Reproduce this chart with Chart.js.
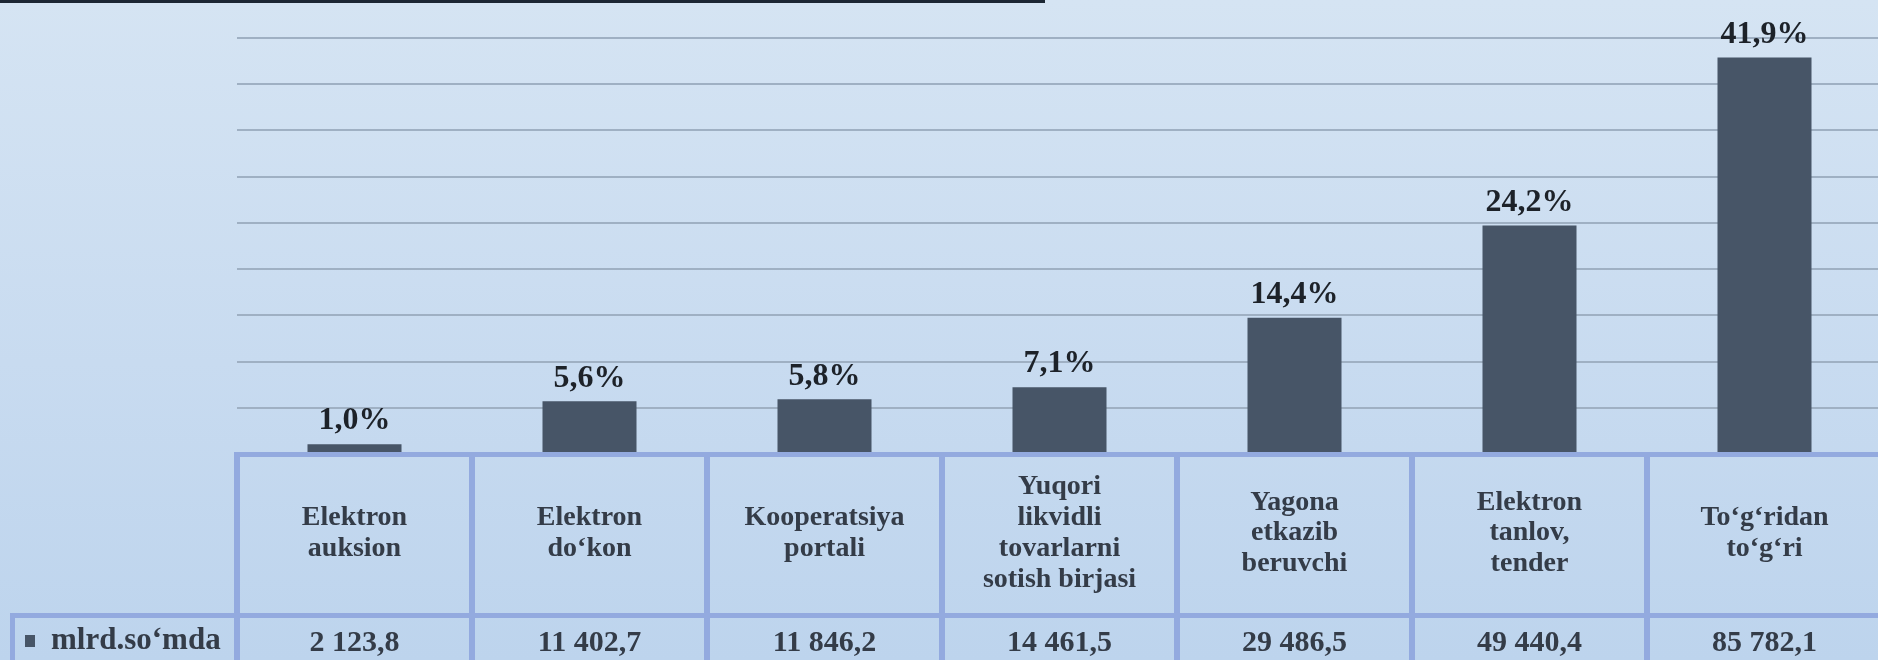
<!DOCTYPE html>
<html>
<head>
<meta charset="utf-8">
<script src="https://cdn.jsdelivr.net/npm/chart.js"></script>
<style>
  html, body { margin: 0; padding: 0; overflow: hidden; }
  body {
    width: 1878px; height: 660px; position: relative;
    background: linear-gradient(to bottom, #d5e4f3 0%, #c8dbf0 55%, #bdd4ed 100%);
  }
  #topline { position: absolute; left: 0; top: 0; width: 1045px; height: 3px; background: #1c2734; }
  #wrap { position: absolute; left: 0; top: 0; width: 1878px; height: 660px; overflow: hidden; }
</style>
</head>
<body>
<div id="wrap"><canvas id="chartXarid" width="1884" height="660"></canvas></div>
<div id="topline"></div>
<script>
var categories = [
    ['Elektron', 'auksion'],
    ['Elektron', 'do‘kon'],
    ['Kooperatsiya', 'portali'],
    ['Yuqori', 'likvidli', 'tovarlarni', 'sotish birjasi'],
    ['Yagona', 'etkazib', 'beruvchi'],
    ['Elektron', 'tanlov,', 'tender'],
    ['To‘g‘ridan', 'to‘g‘ri']
];
var values = [2123.8, 11402.7, 11846.2, 14461.5, 29486.5, 49440.4, 85782.1];
var shares = [1.0, 5.6, 5.8, 7.1, 14.4, 24.2, 41.9];
var seriesName = 'mlrd.so‘mda';

var barColor = '#475567';
var lineColor = '#93aadf';
var textColor = '#343c48';

function fmtValue(v) {
    var parts = v.toFixed(1).split('.');
    return parts[0].replace(/\B(?=(\d{3})+(?!\d))/g, ' ') + ',' + parts[1];
}
var valueLabels = values.map(fmtValue);

// percent labels above the bars
var shareLabels = {
    id: 'shareLabels',
    afterDatasetsDraw: function(chart) {
        var ctx = chart.ctx;
        var meta = chart.getDatasetMeta(0);
        ctx.save();
        ctx.font = 'bold 32px "Liberation Serif"';
        ctx.fillStyle = '#1d2229';
        ctx.textAlign = 'center';
        ctx.textBaseline = 'middle';
        meta.data.forEach(function(bar, i) {
            ctx.fillText(shares[i].toFixed(1).replace('.', ',') + '%', bar.x, bar.y - 23);
        });
        ctx.restore();
    }
};

// data table borders + legend key, like the excel data table
var dataTable = {
    id: 'dataTable',
    afterDraw: function(chart) {
        var ctx = chart.ctx;
        var area = chart.chartArea;
        var x2 = chart.scales.x2;
        var w = chart.width;
        var step = (area.right - area.left) / categories.length;
        ctx.save();
        ctx.fillStyle = lineColor;
        // top edge
        ctx.fillRect(area.left - 3, area.bottom - 2, w, 5);
        // row divider
        ctx.fillRect(10, x2.top - 2, w, 5);
        // legend cell left edge
        ctx.fillRect(10, x2.top - 2, 5, chart.height);
        // column dividers
        for (var i = 0; i <= categories.length; i++) {
            ctx.fillRect(area.left + i * step - 3, area.bottom - 2, 6, chart.height);
        }
        // legend key
        var my = 641;
        ctx.fillStyle = barColor;
        ctx.fillRect(25, my - 6, 10, 12);
        ctx.fillStyle = textColor;
        ctx.font = 'bold 31px "Liberation Serif"';
        ctx.textAlign = 'left';
        ctx.textBaseline = 'middle';
        ctx.fillText(seriesName, 51, my);
        ctx.restore();
    }
};

var ctx = document.getElementById('chartXarid').getContext('2d');
var chartXarid = new Chart(ctx, {
    type: 'bar',
    data: {
        labels: categories,
        datasets: [{
            label: seriesName,
            data: values,
            backgroundColor: barColor,
            borderWidth: 0,
            barPercentage: 0.8,
            categoryPercentage: 0.5
        }]
    },
    options: {
        responsive: false,
        animation: false,
        layout: { padding: { left: 237, right: 2, top: 38, bottom: 0 } },
        plugins: {
            legend: { display: false },
            tooltip: { enabled: false }
        },
        scales: {
            y: {
                min: 0,
                max: 90000,
                ticks: { display: false, stepSize: 10000 },
                border: { display: false },
                grid: {
                    drawTicks: false,
                    lineWidth: 2,
                    color: function(c) { return c.tick && c.tick.value === 0 ? 'rgba(0,0,0,0)' : '#9fb0c3'; }
                }
            },
            x: {
                weight: 0,
                grid: { display: false },
                border: { display: false },
                ticks: {
                    autoSkip: false,
                    maxRotation: 0,
                    minRotation: 0,
                    crossAlign: 'center',
                    padding: 25,
                    color: textColor,
                    font: { family: 'Liberation Serif', weight: 'bold', size: 28, lineHeight: 1.1 }
                },
                afterFit: function(scale) { scale.height = 161; }
            },
            x2: {
                type: 'category',
                position: 'bottom',
                weight: 1,
                labels: valueLabels,
                offset: true,
                grid: { display: false },
                border: { display: false },
                ticks: {
                    autoSkip: false,
                    maxRotation: 0,
                    crossAlign: 'near',
                    padding: 2,
                    color: textColor,
                    font: { family: 'Liberation Serif', weight: 'bold', size: 30, lineHeight: 1.2 }
                },
                afterFit: function(scale) { scale.height = 45; }
            }
        }
    },
    plugins: [shareLabels, dataTable]
});
</script>
</body>
</html>
